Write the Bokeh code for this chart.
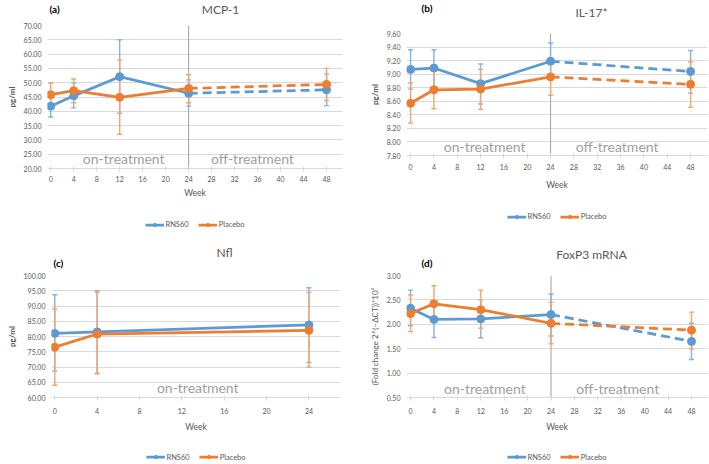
from bokeh.plotting import figure
from bokeh.models import (Range1d, FixedTicker, NumeralTickFormatter, Span, Label,
                          Legend, LegendItem, Whisker, ColumnDataSource, TeeHead, Title)
from bokeh.layouts import column, row
from bokeh.embed import file_html
from bokeh.resources import INLINE

# ---------------- data ----------------
weeks = [0, 4, 12, 24, 48]
weeks_nfl = [0, 4, 24]

mcp_rns = [41.8, 45.4, 52.1, 46.3, 47.5]
mcp_rns_lo = [38.0, 41.2, 39.3, 41.8, 42.0]
mcp_rns_hi = [45.6, 49.9, 65.0, 51.0, 53.0]
mcp_pla = [45.8, 47.2, 44.9, 48.0, 49.4]
mcp_pla_lo = [42.0, 43.0, 32.0, 43.0, 43.8]
mcp_pla_hi = [49.9, 51.3, 57.9, 52.8, 55.0]

il_rns = [9.07, 9.09, 8.86, 9.19, 9.04]
il_rns_lo = [8.78, 8.80, 8.56, 8.92, 8.72]
il_rns_hi = [9.36, 9.36, 9.15, 9.46, 9.35]
il_pla = [8.57, 8.77, 8.78, 8.96, 8.85]
il_pla_lo = [8.28, 8.49, 8.48, 8.69, 8.51]
il_pla_hi = [8.87, 9.05, 9.07, 9.23, 9.18]

nfl_rns = [81.0, 81.5, 83.8]
nfl_rns_lo = [68.7, 68.0, 71.5]
nfl_rns_hi = [93.7, 95.0, 96.0]
nfl_pla = [76.5, 80.8, 82.0]
nfl_pla_lo = [64.0, 67.8, 70.0]
nfl_pla_hi = [89.0, 94.5, 94.5]

fox_rns = [2.33, 2.10, 2.11, 2.20, 1.65]
fox_rns_lo = [1.97, 1.73, 1.72, 1.76, 1.28]
fox_rns_hi = [2.70, 2.47, 2.50, 2.62, 2.02]
fox_pla = [2.22, 2.42, 2.30, 2.02, 1.88]
fox_pla_lo = [1.85, 2.05, 1.92, 1.60, 1.50]
fox_pla_hi = [2.60, 2.79, 2.70, 2.45, 2.25]

series_names = ["RNS60", "Placebo"]
ticks_48 = list(range(0, 49, 4))
ticks_24 = list(range(0, 25, 4))

# ---------------- style ----------------
FONT = "Lato"
BLUE, ORANGE = "#5B9BD5", "#ED7D31"
BLUE_ERR, ORANGE_ERR = "#84B4E4", "#F4A46C"
GRID = "#D9D9D9"
TXT = "#595959"
ANN = "#A0A0A0"


def header_fig(c):
    f = figure(width=c["w"], height=c["head"], output_backend="svg", toolbar_location=None,
               title=None, x_axis_type=None, y_axis_type=None, min_border=0,
               outline_line_color=None, x_range=Range1d(0, 1), y_range=Range1d(0, 1))
    f.add_layout(Label(x=c["title_xy"][0], y=c["title_xy"][1], x_units="screen",
                       y_units="screen", text=c["title"], text_align="center",
                       text_baseline="middle", text_font=FONT, text_font_size="12px",
                       text_color=TXT))
    f.add_layout(Label(x=c["tag_xy"][0], y=c["tag_xy"][1], x_units="screen",
                       y_units="screen", text=c["tag"], text_align="left",
                       text_baseline="middle", text_font=FONT, text_font_size="10px",
                       text_font_style="bold", text_color="black"))
    return f


def legend_fig(c):
    bl, br, bt, bb = c["leg_border"]
    # ranges chosen so that the (clipped) proxy renderers stay out of view
    f = figure(width=c["w"], height=c["leg_h"], output_backend="svg", toolbar_location=None,
               title=None, x_axis_type=None, y_axis_type=None, outline_line_color=None,
               min_border_left=bl, min_border_right=br, min_border_top=bt,
               min_border_bottom=bb, x_range=Range1d(-2, -1), y_range=Range1d(-2, -1))
    items = []
    for name, (vals, _, _), col in zip(series_names, c["series"], [BLUE, ORANGE]):
        l1 = f.line(x=c["x"], y=vals, line_color=col, line_width=2.75)
        c1 = f.scatter(x=c["x"], y=vals, size=7, fill_color=col, line_color=col)
        items.append(LegendItem(label=name, renderers=[l1, c1]))
    f.add_layout(Legend(items=items, orientation="horizontal", location="center",
                        label_text_font=FONT, label_text_font_size="7.5px",
                        label_text_color=TXT, glyph_width=19, glyph_height=8,
                        spacing=9, padding=0, margin=0, label_standoff=2,
                        border_line_color=None, background_fill_alpha=0))
    return f


def main_fig(c):
    bl, br, bb = c["border"]
    yr = c["yr"]
    p = figure(width=c["w"], height=c["main_h"], output_backend="svg",
               toolbar_location=None, title=None,
               x_range=Range1d(*c["xr"]), y_range=Range1d(yr[0], yr[1]),
               min_border_left=bl, min_border_right=br, min_border_top=5,
               min_border_bottom=bb, outline_line_color=None)

    nt = int(round((yr[1] - yr[0]) / c["ystep"]))
    p.yaxis.ticker = FixedTicker(ticks=[yr[0] + i * c["ystep"] for i in range(nt + 1)])
    p.yaxis.formatter = NumeralTickFormatter(format="0.00")
    p.yaxis.axis_line_color = None
    p.yaxis.major_tick_line_color = None
    p.yaxis.major_tick_out = 0
    p.yaxis.major_tick_in = 0
    p.yaxis.minor_tick_line_color = None
    p.yaxis.major_label_standoff = 6
    p.yaxis.major_label_text_font = FONT
    p.yaxis.major_label_text_font_size = "7px"
    p.yaxis.major_label_text_color = TXT

    p.add_layout(Title(text=c["ylabel"], align="center", text_font=FONT,
                       text_font_size=c["ylabel_size"],
                       text_font_style=c["ylabel_style"], text_color=TXT,
                       standoff=c["ylabel_standoff"]), "left")

    p.xaxis.ticker = FixedTicker(ticks=c["xticks"])
    p.xaxis.axis_line_color = GRID
    p.xaxis.major_tick_line_color = GRID
    p.xaxis.major_tick_in = 2
    p.xaxis.major_tick_out = 3
    p.xaxis.minor_tick_line_color = None
    p.xaxis.major_label_standoff = c["xl_standoff"]
    p.xaxis.major_label_text_font = FONT
    p.xaxis.major_label_text_font_size = "7px"
    p.xaxis.major_label_text_color = TXT
    p.xaxis.axis_label = "Week"
    p.xaxis.axis_label_text_font = FONT
    p.xaxis.axis_label_text_font_size = "8.5px"
    p.xaxis.axis_label_text_font_style = "normal"
    p.xaxis.axis_label_text_color = TXT
    p.xaxis.axis_label_standoff = c["week_standoff"]

    p.xgrid.grid_line_color = None
    p.ygrid.grid_line_color = GRID
    p.ygrid.grid_line_width = 1

    if c["off"]:
        p.add_layout(Span(location=24, dimension="height", line_color=ANN,
                          line_width=1, level="underlay"))

    ax, ax2, ay = c["ann"]
    p.add_layout(Label(x=ax, y=ay, text="on-treatment", text_align="center",
                       text_baseline="middle", text_font=FONT,
                       text_font_size="14px", text_color=ANN))
    if c["off"]:
        p.add_layout(Label(x=ax2, y=ay, text="off-treatment", text_align="center",
                           text_baseline="middle", text_font=FONT,
                           text_font_size="14px", text_color=ANN))

    x = c["x"]
    n_on = x.index(24) + 1
    for (vals, lo, hi), col, ecol in zip(c["series"], [BLUE, ORANGE],
                                         [BLUE_ERR, ORANGE_ERR]):
        src = ColumnDataSource(dict(x=x, lo=lo, hi=hi))
        p.add_layout(Whisker(base="x", upper="hi", lower="lo", source=src,
                             line_color=ecol, line_width=1.4, level="underlay",
                             upper_head=TeeHead(size=5, line_color=ecol, line_width=1.4),
                             lower_head=TeeHead(size=5, line_color=ecol, line_width=1.4)))
        p.line(x[:n_on], vals[:n_on], line_color=col, line_width=2.75)
        if len(x) > n_on:
            p.line(x[n_on - 1:], vals[n_on - 1:], line_color=col, line_width=2.75,
                   line_dash="9 5")
        p.scatter(x, vals, size=8, fill_color=col, line_color=col)
    return p


def panel(c):
    return column(header_fig(c), main_fig(c), legend_fig(c), spacing=0)


cfg_a = dict(w=354, head=20, main_h=180, leg_h=32, leg_border=(0, 4, 17, 1),
             title="MCP-1", title_xy=(173, 11), tag="(a)", tag_xy=(2, 12),
             border=(40, 12, 28), xr=(-0.56, 50.77), yr=(20, 70), ystep=5,
             ylabel="pg/ml", ylabel_size="8px", ylabel_style="bold", ylabel_standoff=8,
             xticks=ticks_48, xl_standoff=4, week_standoff=3, off=True,
             ann=(12.7, 35.1, 23.4), x=weeks,
             series=[(mcp_rns, mcp_rns_lo, mcp_rns_hi), (mcp_pla, mcp_pla_lo, mcp_pla_hi)])
cfg_b = dict(w=354, head=28, main_h=164, leg_h=40, leg_border=(20, 0, 17, 9),
             title="IL-17*", title_xy=(185, 16), tag="(b)", tag_xy=(15, 21),
             border=(52, 1, 35), xr=(-0.7, 50.9), yr=(7.8, 9.6), ystep=0.2,
             ylabel="pg/ml", ylabel_size="8px", ylabel_style="bold", ylabel_standoff=8,
             xticks=ticks_48, xl_standoff=5, week_standoff=7, off=True,
             ann=(12.7, 35.4, 7.93), x=weeks,
             series=[(il_rns, il_rns_lo, il_rns_hi), (il_pla, il_pla_lo, il_pla_hi)])
cfg_c = dict(w=354, head=38, main_h=164, leg_h=29, leg_border=(0, 4, 16, 0),
             title="Nfl", title_xy=(173, 18), tag="(c)", tag_xy=(2, 8),
             border=(50, 14, 35), xr=(-0.31, 26.98), yr=(60, 100), ystep=5,
             ylabel="pg/ml", ylabel_size="8px", ylabel_style="bold", ylabel_standoff=8,
             xticks=ticks_24, xl_standoff=7, week_standoff=5, off=False,
             ann=(13.5, 0, 63.2), x=weeks_nfl,
             series=[(nfl_rns, nfl_rns_lo, nfl_rns_hi), (nfl_pla, nfl_pla_lo, nfl_pla_hi)])
cfg_d = dict(w=354, head=38, main_h=164, leg_h=29, leg_border=(20, 0, 16, 0),
             title="FoxP3 mRNA", title_xy=(185, 16), tag="(d)", tag_xy=(15, 8),
             border=(52, 1, 35), xr=(-0.69, 50.73), yr=(0.5, 3.0), ystep=0.5,
             ylabel="(Fold change 2^(−ΔCT))*10³", ylabel_size="8px",
             ylabel_style="normal", ylabel_standoff=8,
             xticks=ticks_48, xl_standoff=7, week_standoff=5, off=True,
             ann=(12.7, 35.4, 0.68), x=weeks,
             series=[(fox_rns, fox_rns_lo, fox_rns_hi), (fox_pla, fox_pla_lo, fox_pla_hi)])

layout = column(row(panel(cfg_a), panel(cfg_b), spacing=0),
                row(panel(cfg_c), panel(cfg_d), spacing=0), spacing=0)
open("out.html", "w").write(file_html(layout, INLINE))
